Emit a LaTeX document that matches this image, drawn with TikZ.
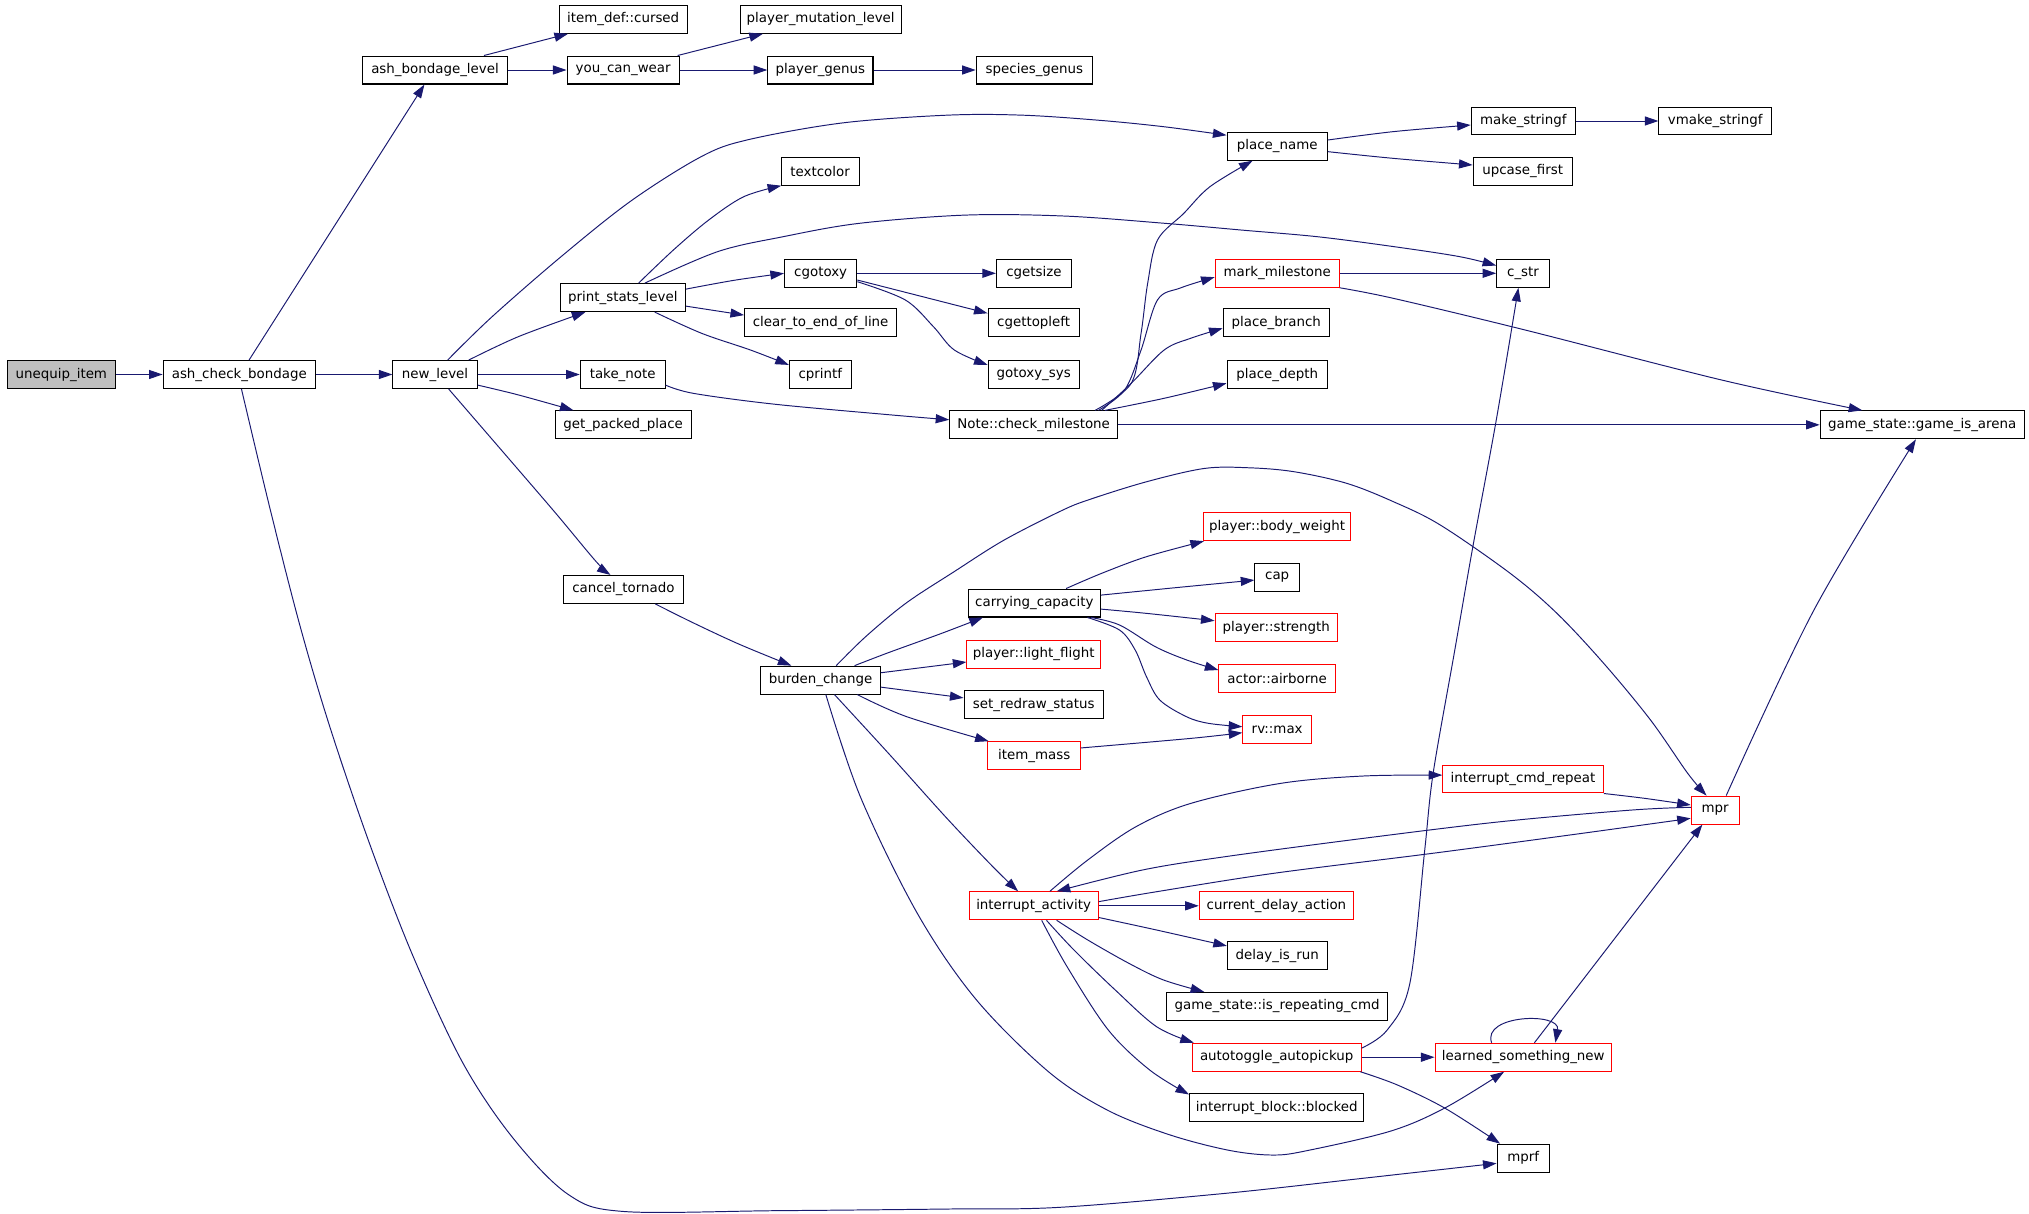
\documentclass[tikz,border=0pt]{standalone}
\usepackage{fontspec}
\setmainfont{DejaVu Sans}
\usetikzlibrary{arrows.meta,calc}
\definecolor{edgecol}{HTML}{191970}
\definecolor{redbox}{HTML}{FF0000}
\definecolor{grayfill}{HTML}{BFBFBF}
\begin{document}
\begin{tikzpicture}[x=1pt,y=-1pt,
  box/.style={draw=black, line width=0.8pt, minimum height=21.6pt, inner sep=0pt, font=\fontsize{10.35}{12}\selectfont},
  rbox/.style={box, draw=redbox},
  edge/.style={draw=edgecol, line width=0.75pt, -{Triangle[length=10.5pt,width=7pt]}},
  sm/.style={smooth, tension=0.55}]
\fill[white] (0,0) rectangle (1568,937.4);
\useasboundingbox (0,0) rectangle (1568,937.4);
% nodes
\node[box, fill=grayfill, minimum width=83.4pt] (ui) at (47.4,289.4) {unequip\_item};
\node[box, minimum width=117.7pt] (acb) at (184.9,289.4) {ash\_check\_bondage};
\node[box, minimum width=111.6pt] (abl) at (336.2,54.1) {ash\_bondage\_level};
\node[box, minimum width=98.7pt] (cursed) at (481.6,14.9) {item\_def::cursed};
\node[box, minimum width=124.2pt] (pml) at (634.2,14.9) {player\_mutation\_level};
\node[box, minimum width=86.8pt] (ycw) at (481.6,54.1) {you\_can\_wear};
\node[box, minimum width=81.3pt] (pg) at (634,54.1) {player\_genus};
\node[box, minimum width=90pt] (sg) at (799.4,54.1) {species\_genus};
\node[box, minimum width=65.1pt] (nl) at (336.2,289.4) {new\_level};
\node[box, minimum width=77.5pt] (pn) at (987,113) {place\_name};
\node[box, minimum width=80.5pt] (ms) at (1177.2,93.5) {make\_stringf};
\node[box, minimum width=87pt] (vms) at (1325.5,93.5) {vmake\_stringf};
\node[box, minimum width=76.6pt] (uf) at (1176.7,132.3) {upcase\_first};
\node[box, minimum width=60.4pt] (tc) at (633.8,132.3) {textcolor};
\node[box, minimum width=97pt] (psl) at (481.3,230) {print\_stats\_level};
\node[box, minimum width=55.9pt] (cg) at (634.2,211.2) {cgotoxy};
\node[box, minimum width=58pt] (cgs) at (799,211.2) {cgetsize};
\node[box, minimum width=70.4pt] (ctl) at (798.8,249.4) {cgettopleft};
\node[box, minimum width=70.4pt] (gs) at (798.8,289.4) {gotoxy\_sys};
\node[box, minimum width=117.6pt] (ctel) at (634.2,249.4) {clear\_to\_end\_of\_line};
\node[box, minimum width=47.8pt] (cpf) at (633.9,289.4) {cprintf};
\node[box, minimum width=65.5pt] (tn) at (481.2,289.4) {take\_note};
\node[box, minimum width=105.2pt] (gpp) at (481.6,328.3) {get\_packed\_place};
\node[box, minimum width=129.6pt] (ncm) at (798.8,328.3) {Note::check\_milestone};
\node[rbox, minimum width=95.9pt] (mm) at (987,211.2) {mark\_milestone};
\node[box, minimum width=82.2pt] (pb) at (986.3,249.4) {place\_branch};
\node[box, minimum width=77.5pt] (pd) at (987,289.4) {place\_depth};
\node[box, minimum width=40.7pt] (cs) at (1177,211.2) {c\_str};
\node[box, minimum width=157.7pt] (gia) at (1485.5,328.3) {game\_state::game\_is\_arena};
\node[box, minimum width=92.8pt] (ct) at (481.8,455.5) {cancel\_tornado};
\node[box, minimum width=92.3pt] (bc) at (634.1,525.6) {burden\_change};
\node[box, minimum width=102.1pt] (cc) at (799.3,466) {carrying\_capacity};
\node[rbox, minimum width=114.2pt] (bw) at (986.9,407) {player::body\_weight};
\node[box, minimum width=34.5pt] (cap) at (987,446) {cap};
\node[rbox, minimum width=94.6pt] (st) at (986.3,485) {player::strength};
\node[rbox, minimum width=90pt] (ab) at (987,524.5) {actor::airborne};
\node[rbox, minimum width=53.1pt] (rv) at (987,563.7) {rv::max};
\node[rbox, minimum width=103.1pt] (lf) at (798.8,505.5) {player::light\_flight};
\node[box, minimum width=107.8pt] (sr) at (798.9,544.5) {set\_redraw\_status};
\node[rbox, minimum width=71.5pt] (im) at (799.2,584) {item\_mass};
\node[rbox, minimum width=124pt] (icr) at (1177,602) {interrupt\_cmd\_repeat};
\node[rbox, minimum width=37pt] (mpr) at (1325.5,626) {mpr};
\node[rbox, minimum width=99.6pt] (ia) at (798.8,700) {interrupt\_activity};
\node[rbox, minimum width=119.2pt] (cda) at (986.4,700) {current\_delay\_action};
\node[box, minimum width=77.1pt] (dir) at (987.1,738.5) {delay\_is\_run};
\node[box, minimum width=170.2pt] (irc) at (986.9,777.7) {game\_state::is\_repeating\_cmd};
\node[rbox, minimum width=130.4pt] (aa) at (986.6,817) {autotoggle\_autopickup};
\node[rbox, minimum width=136.4pt] (lsn) at (1177.2,817) {learned\_something\_new};
\node[box, minimum width=134.6pt] (ibb) at (986.6,856) {interrupt\_block::blocked};
\node[box, minimum width=40.5pt] (mprf) at (1177.2,895) {mprf};
% edges
\draw[edge] (ui) -- (acb);
\draw[edge] ($(acb.north)+(7.6,0)$) -- ($(abl.south)+(-8.2,0)$);
\draw[edge] (acb) -- (nl);
\draw[edge] plot[sm] coordinates {($(acb.south)+(1.7,0)$) (208.6,392.8) (231.8,483.5) (255,562) (285.9,652.8) (319.4,739.4) (358,822) (396.7,879.8) (439.2,923.1) (481.7,936.2) (600,935.6) (734,934.3) (819,933) (947,922.2) (1053,910.6) ($(mprf.west)+(0,4)$)};
\draw[edge] ($(abl.north)+(37.8,0)$) -- ($(cursed.south west)+(7.1,0)$);
\draw[edge] (abl) -- (ycw);
\draw[edge] ($(ycw.north east)+(-1.7,0)$) -- ($(pml.south west)+(17.9,0)$);
\draw[edge] (ycw) -- (pg);
\draw[edge] (pg) -- (sg);
\draw[edge] plot[sm] coordinates {($(nl.north)+(9.8,0)$) (380,245) (434,198) (488,155) (542,121) (578,108) (651,95) (732,89) (790,89) (850,93) (900,98) ($(pn.west)+(0,-8.5)$)};
\draw[edge] plot[sm] coordinates {($(nl.north)+(26.1,0)$) (401,260) ($(psl.south west)+(20,0)$)};
\draw[edge] (nl) -- (tn);
\draw[edge] plot[sm] coordinates {($(nl.east)+(0,8.2)$) (401,305.3) ($(gpp.north west)+(14.6,0)$)};
\draw[edge] plot[sm] coordinates {($(nl.south)+(10.5,0)$) (394.2,355.6) (429.7,396.9) (460.7,434) ($(ct.north)+(-10,0)$)};
\draw[edge] plot[sm] coordinates {($(psl.north)+(12.2,0)$) (520.6,193) (547.7,170) (574.8,152) ($(tc.south west)+(0.5,0)$)};
\draw[edge] plot[sm] coordinates {($(psl.north)+(17,0)$) (554.5,194.5) (604.8,183) (663.9,172.6) (746.7,166.2) (823.6,167) (900.5,172.6) (959.6,177.8) (1018.7,183) (1077.9,190.7) (1127.8,198.3) ($(cs.west)+(0,-6)$)};
\draw[edge] plot[sm] coordinates {($(psl.east)+(0,-6.6)$) (568,216.5) (cg.west)};
\draw[edge] ($(psl.east)+(0,6.6)$) -- ($(ctel.west)+(0,-5.9)$);
\draw[edge] plot[sm] coordinates {($(psl.south)+(24.7,0)$) (542.3,257.6) (580,270.5) ($(cpf.west)+(0,-7.4)$)};
\draw[edge] (cg) -- (cgs);
\draw[edge] ($(cg.east)+(0,5.2)$) -- ($(ctl.west)+(0,-7.3)$);
\draw[edge] plot[sm] coordinates {($(cg.east)+(0,6.5)$) (699.6,231.8) (721.3,252.4) (737.5,270.5) ($(gs.west)+(0,-7.4)$)};
\draw[edge] plot[sm] coordinates {($(tn.east)+(0,8.2)$) (536,304) (598,312.3) (687,320.5) ($(ncm.west)+(0,-3.9)$)};
\draw[edge] plot[sm] coordinates {($(ncm.north)+(47.5,0)$) (874.2,296.2) (881.8,257.6) (886.9,219) (894.5,185.5) (914.8,164.9) (935,144.3) ($(pn.south)+(-19,0)$)};
\draw[edge] plot[sm] coordinates {($(ncm.north)+(50.1,0)$) (869.1,301.4) (881.8,270.5) (894.5,231.8) (912.3,222.5) ($(mm.west)+(0,3)$)};
\draw[edge] plot[sm] coordinates {($(ncm.north)+(52.6,0)$) (874.2,296.2) (899.6,270.5) (919.9,261.5) ($(pb.west)+(0,4.3)$)};
\draw[edge] plot[sm] coordinates {($(ncm.north)+(55.2,0)$) (899.6,307.8) ($(pd.west)+(0,6.8)$)};
\draw[edge] (ncm) -- (gia);
\draw[edge] (mm) -- (cs);
\draw[edge] plot[sm] coordinates {(mm.south east) (1077,230.6) (1178.5,255) (1330.6,293.7) ($(gia.north west)+(32.9,0)$)};
\draw[edge] plot[sm] coordinates {($(pn.east)+(0,-4.8)$) (1077,101.7) ($(ms.west)+(0,3.1)$)};
\draw[edge] plot[sm] coordinates {($(pn.east)+(0,4.2)$) (1077,122.4) ($(uf.west)+(0,-4.8)$)};
\draw[edge] (ms) -- (vms);
\draw[edge] plot[sm] coordinates {($(ct.south)+(24.6,0)$) (536.1,481.5) (571.6,498) ($(bc.north)+(-22.5,0)$)};
\draw[edge] plot[sm] coordinates {($(bc.north)+(12.1,0)$) (669.2,491.8) (700.3,466) (737,442) (775.7,417.5) (820,394.8) (842,386) (886,372.3) (930.8,362) (965.3,361.5) (999.8,364.5) (1040.7,373.5) (1076.8,387.7) (1113,405.7) (1167.1,443.1) (1203.2,474) (1239.3,512.6) (1275.5,556.4) (1304.3,597.7) ($(mpr.north)+(-6.7,0)$)};
\draw[edge] plot[sm] coordinates {($(bc.north)+(26.3,0)$) (687,504.2) (727,489.7) ($(cc.south west)+(11.7,0)$)};
\draw[edge] ($(bc.east)+(0,-5.7)$) -- ($(lf.west)+(0,6.1)$);
\draw[edge] ($(bc.east)+(0,5.4)$) -- ($(sr.west)+(0,-5.2)$);
\draw[edge] plot[sm] coordinates {($(bc.south)+(28.5,0)$) (700.3,553.7) ($(im.north west)+(1,0)$)};
\draw[edge] plot[sm] coordinates {($(bc.south)+(10.8,0)$) (687,582.6) (731.4,632) (766.8,669.3) ($(ia.north)+(-12,0)$)};
\draw[edge] plot[sm] coordinates {($(bc.south)+(4.1,0)$) (665,616) (709,706) (754,772) (810,828) (856,858) (904,877) (950,889) (984,892.6) (1011,889) (1075,874) (1117,856) ($(lsn.south)+(-14.8,0)$)};
\draw[edge] plot[sm] coordinates {($(cc.north)+(24.6,0)$) (851.5,443) (886,430.2) ($(bw.south west)+(1,0)$)};
\draw[edge] plot[sm] coordinates {($(cc.east)+(0,-6.1)$) (910,454) ($(cap.west)+(0,2.3)$)};
\draw[edge] plot[sm] coordinates {($(cc.east)+(0,4.7)$) (886,474) ($(st.west)+(0,-5.3)$)};
\draw[edge] plot[sm] coordinates {($(cc.south east)+(-7.6,0)$) (865.2,483) (892.9,499.8) (917,510) ($(ab.west)+(0,-6.7)$)};
\draw[edge] plot[sm] coordinates {($(cc.south east)+(-10.4,0)$) (865.2,486.9) (877.3,502.4) (886,523) (896.3,541) (917,553.9) (934,559) ($(rv.west)+(0,-2.1)$)};
\draw[edge] plot[sm] coordinates {($(im.east)+(0,-6)$) (920.4,570.6) ($(rv.west)+(0,2.5)$)};
\draw[edge] plot[sm] coordinates {($(ia.north)+(12.5,0)$) (840.6,664.6) (877.8,638.9) (920.4,620.8) (989.5,605.4) (1053.3,599.7) ($(icr.west)+(0,-3)$)};
\draw[edge] plot[sm] coordinates {($(ia.east)+(0,-3.2)$) (893.8,689.1) (984.2,674.9) (1106.5,659.5) (1213,645.3) ($(mpr.west)+(0,6.4)$)};
\draw[edge] plot[sm] coordinates {($(mpr.west)+(0,-2.1)$) (1260.8,626) (1159.7,635) (1053.3,647.9) (947,662) (883,672.3) ($(ia.north)+(17.8,0)$)};
\draw[edge] plot[sm] coordinates {(icr.south east) (1271.4,617) ($(mpr.west)+(0,-3.9)$)};
\draw[edge] (ia) -- (cda);
\draw[edge] plot[sm] coordinates {($(ia.east)+(0,9)$) (893.8,718.7) ($(dir.west)+(0,-7.5)$)};
\draw[edge] plot[sm] coordinates {($(ia.south)+(17.8,0)$) (840.6,726.4) (872.5,744.5) (899.1,757.3) ($(irc.north west)+(29.2,0)$)};
\draw[edge] plot[sm] coordinates {($(ia.south)+(9.9,0)$) (830,734.2) (861.9,765.1) (893.8,793.4) ($(aa.north west)+(1.6,0)$)};
\draw[edge] plot[sm] coordinates {($(ia.south)+(6.2,0)$) (824.6,747) (856.5,796) (888.5,826.9) ($(ibb.north west)+(0,1)$)};
\draw[edge] plot[sm] coordinates {($(aa.east)+(0,-7)$) (1072,796) (1089.5,760) (1101,657) (1107.5,597.7) (1123.8,504.9) (1138.2,422.5) (1156.3,324.6) ($(cs.south)+(-3.6,0)$)};
\draw[edge] (aa) -- (lsn);
\draw[edge] plot[sm] coordinates {($(aa.south east)+(-1,0)$) (1080,838.5) (1117,856.6) ($(mprf.north west)+(2.7,0)$)};
\draw[edge] ($(lsn.north)+(8.6,0)$) -- ($(mpr.south)+(-9.9,0)$);
\draw[edge] ($(lsn.north)+(-24.5,0)$) .. controls (1145,784) and (1206,782) .. ($(lsn.north)+(24.8,0)$);
\draw[edge] plot[sm] coordinates {($(mpr.north)+(8.5,0)$) (1401.8,471.4) ($(gia.south)+(-4.9,0)$)};
\end{tikzpicture}
\end{document}
